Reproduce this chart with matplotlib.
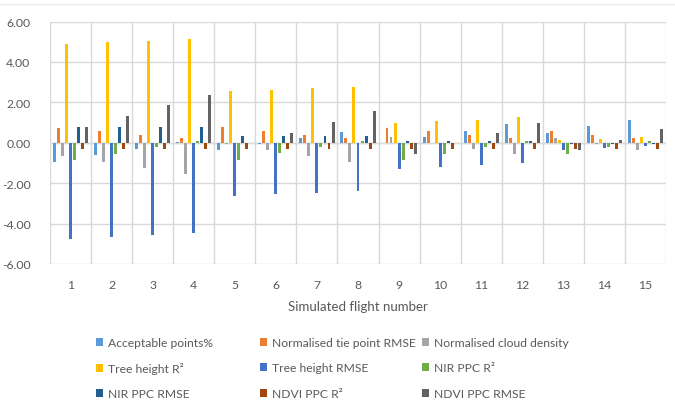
import matplotlib
matplotlib.use("Agg")
import matplotlib.pyplot as plt
import numpy as np

plt.rcParams['font.family'] = ['Lato', 'DejaVu Sans']

flights = [str(i) for i in range(1, 16)]
series_names = ["Acceptable points%", "Normalised tie point RMSE", "Normalised cloud density",
                "Tree height R²", "Tree height RMSE", "NIR PPC R²",
                "NIR PPC RMSE", "NDVI PPC R²", "NDVI PPC RMSE"]
colors = ["#5B9BD5", "#ED7D31", "#A5A5A5", "#FFC000", "#4472C4", "#70AD47",
          "#255E91", "#9E480E", "#636363"]

acceptable = [-0.94, -0.63, -0.31, 0.02, -0.38, -0.05, 0.25, 0.54, 0.0, 0.26, 0.59, 0.91, 0.49, 0.82, 1.12]
tie_rmse = [0.74, 0.58, 0.40, 0.25, 0.76, 0.58, 0.40, 0.25, 0.74, 0.56, 0.40, 0.25, 0.56, 0.40, 0.25]
cloud_density = [-0.66, -0.96, -1.27, -1.55, -0.07, -0.35, -0.68, -0.97, 0.30, -0.03, -0.30, -0.58, 0.25, -0.05, -0.35]
tree_r2 = [4.89, 4.98, 5.04, 5.11, 2.54, 2.60, 2.69, 2.77, 0.99, 1.09, 1.15, 1.25, 0.12, 0.21, 0.30]
tree_rmse = [-4.74, -4.66, -4.56, -4.46, -2.64, -2.54, -2.47, -2.37, -1.29, -1.19, -1.10, -1.00, -0.35, -0.26, -0.18]
nir_r2 = [-0.84, -0.54, -0.21, 0.08, -0.84, -0.53, -0.21, 0.07, -0.84, -0.54, -0.21, 0.08, -0.54, -0.21, 0.10]
nir_rmse = [0.76, 0.76, 0.76, 0.76, 0.35, 0.35, 0.35, 0.35, 0.07, 0.07, 0.07, 0.07, -0.07, -0.07, -0.05]
ndvi_r2 = [-0.31] * 15
ndvi_rmse = [0.79, 1.32, 1.85, 2.37, 0.0, 0.49, 1.02, 1.55, -0.56, 0.0, 0.48, 1.00, -0.36, 0.16, 0.68]

data = [acceptable, tie_rmse, cloud_density, tree_r2, tree_rmse, nir_r2, nir_rmse, ndvi_r2, ndvi_rmse]

fig = plt.figure(figsize=(6.75, 4.14), dpi=100)
ax = fig.add_axes([50/675, 1 - 265/414, (666-50)/675, (265-22.5)/414])

x = np.arange(len(flights))
slot = 0.098
bw = 0.072
for i, (vals, c, name) in enumerate(zip(data, colors, series_names)):
    ax.bar(x + (i - 4) * slot, vals, width=bw, color=c, label=name, zorder=3)

ax.set_xlim(-0.5, len(flights) - 0.5)
ax.set_ylim(-6, 6)
ax.set_yticks(np.arange(-6, 6.01, 2))
ax.set_yticklabels([f"{v:.2f}" for v in np.arange(-6, 6.01, 2)])
ax.set_xticks(x)
ax.set_xticklabels(flights)
ax.set_xticks(np.arange(-0.5, len(flights), 1), minor=True)
ax.grid(True, which='major', axis='y', color='#D9D9D9', linewidth=1, zorder=0)
ax.grid(True, which='minor', axis='x', color='#D9D9D9', linewidth=1, zorder=0)
ax.tick_params(axis='both', which='both', length=0, labelsize=8.8, colors='#595959')
ax.tick_params(axis='y', pad=14)
ax.tick_params(axis='x', pad=11)
for s in ax.spines.values():
    s.set_visible(False)
ax.axhline(0, color='#D9D9D9', linewidth=1, zorder=1)
ax.set_xlabel("Simulated flight number", fontsize=9.5, color='#595959', labelpad=7)

# faint chart border line at the top
fig.add_artist(plt.Line2D([0, 1], [1 - 5/414, 1 - 5/414], transform=fig.transFigure,
                          color='#EBEBEB', linewidth=1))

h, l = ax.get_legend_handles_labels()
col_x = [96/675, 260/675, 422/675]
row_y = [344, 369, 395]
for idx in range(9):
    r, c = divmod(idx, 3)
    leg = fig.legend([h[idx]], [l[idx]], loc='center left',
                     bbox_to_anchor=(col_x[c], 1 - row_y[r]/414),
                     frameon=False, fontsize=8.7, handlelength=0.6, handleheight=0.6,
                     handletextpad=0.4, borderaxespad=0, borderpad=0)
    for t in leg.get_texts():
        t.set_color('#595959')

fig.savefig("out.png", dpi=100)
